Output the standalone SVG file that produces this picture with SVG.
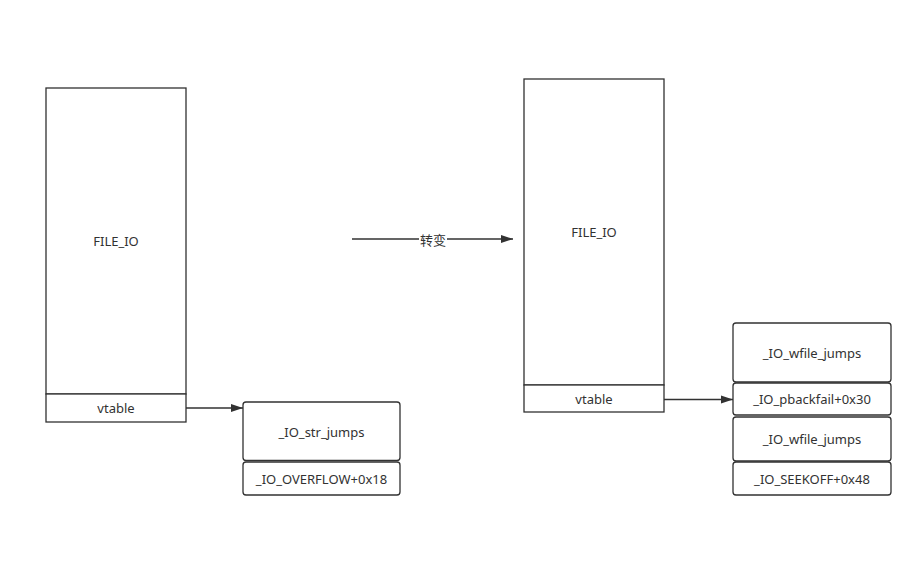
<svg xmlns="http://www.w3.org/2000/svg" width="913" height="561" viewBox="0 0 913 561">
<defs>
<style>
.box{fill:#fff;stroke:#323232;stroke-width:1.3}
.t{font-family:"Noto Sans","Liberation Sans","Noto Sans CJK SC",sans-serif;font-size:13px;fill:#323232;text-anchor:middle;dominant-baseline:central}
.c{stroke:#323232;stroke-width:1.3;fill:none}
</style>
<marker id="ah" viewBox="0 0 12 9" refX="12" refY="4.5" markerWidth="12" markerHeight="9" markerUnits="userSpaceOnUse" orient="auto">
<path d="M0,0.5 L12,4.5 L0,8.5 Z" fill="#323232"/>
</marker>
</defs>
<rect width="913" height="561" fill="#fff"/>
<g id="left-file">
<rect class="box" x="46" y="88" width="140" height="306"/>
<text class="t" x="116" y="241">FILE_IO</text>
</g>
<g id="left-vtable">
<rect class="box" x="46" y="394" width="140" height="28"/>
<text class="t" x="116" y="408">vtable</text>
</g>
<g id="str-jumps">
<rect class="box" x="243" y="402" width="157" height="58.5" rx="3"/>
<text class="t" x="321.5" y="432">_IO_str_jumps</text>
</g>
<g id="overflow">
<rect class="box" x="243" y="462" width="157" height="33" rx="3"/>
<text class="t" x="321.5" y="478.5">_IO_OVERFLOW+0x18</text>
</g>
<g id="right-file">
<rect class="box" x="524" y="79" width="140" height="306"/>
<text class="t" x="594" y="232">FILE_IO</text>
</g>
<g id="right-vtable">
<rect class="box" x="524" y="385" width="140" height="27"/>
<text class="t" x="594" y="399">vtable</text>
</g>
<g id="wfile1">
<rect class="box" x="733" y="323" width="158" height="59" rx="3"/>
<text class="t" x="812" y="353">_IO_wfile_jumps</text>
</g>
<g id="pbackfail">
<rect class="box" x="733" y="383" width="158" height="32" rx="3"/>
<text class="t" x="812" y="399">_IO_pbackfail+0x30</text>
</g>
<g id="wfile2">
<rect class="box" x="733" y="417" width="158" height="44" rx="3"/>
<text class="t" x="812" y="439">_IO_wfile_jumps</text>
</g>
<g id="seekoff">
<rect class="box" x="733" y="462" width="158" height="33" rx="3"/>
<text class="t" x="812" y="478.5">_IO_SEEKOFF+0x48</text>
</g>
<g id="connectors">
<line class="c" x1="186" y1="408" x2="243" y2="408" marker-end="url(#ah)"/>
<line class="c" x1="664" y1="399.5" x2="733" y2="399.5" marker-end="url(#ah)"/>
<line class="c" x1="352" y1="239" x2="513" y2="239" marker-end="url(#ah)"/>
<rect x="419" y="231" width="28" height="17" fill="#fff"/>
<text class="t" x="433" y="240">转变</text>
</g>
</svg>
